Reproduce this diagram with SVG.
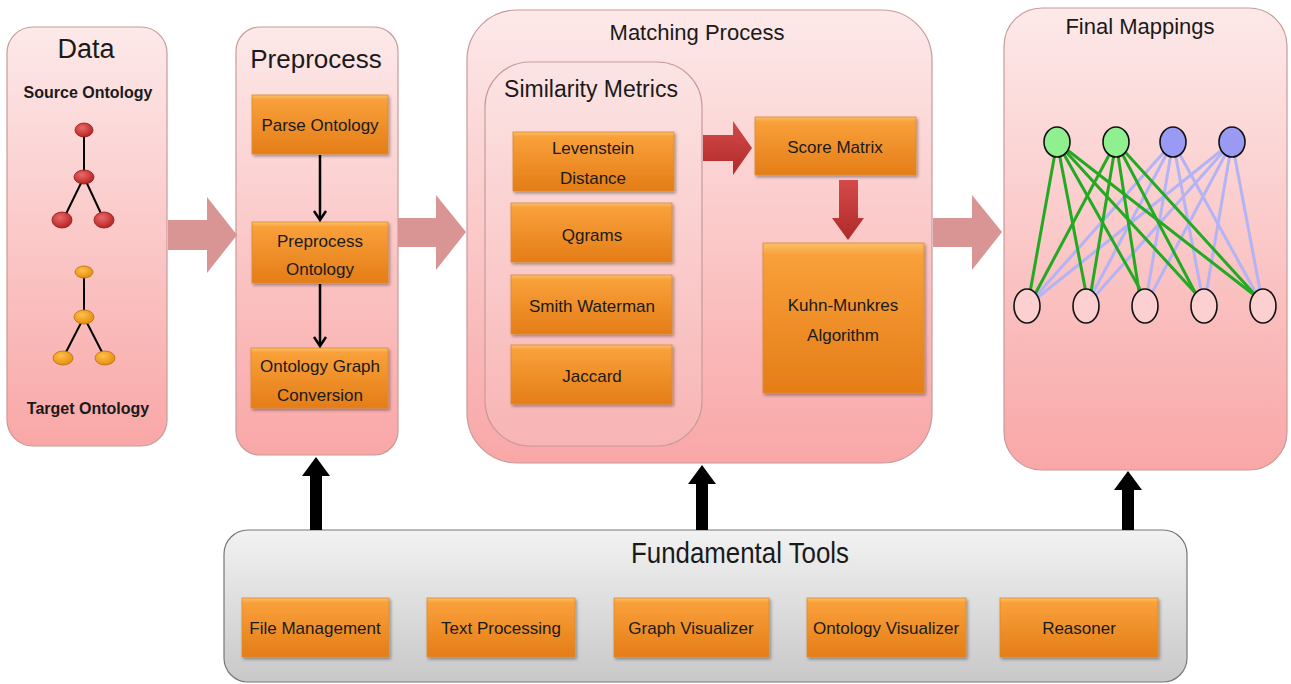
<svg xmlns="http://www.w3.org/2000/svg" width="1291" height="684" viewBox="0 0 1291 684">
<defs>
<linearGradient id="pink" x1="0" y1="0" x2="0" y2="1">
<stop offset="0" stop-color="#fde9e9"/>
<stop offset="1" stop-color="#f9a7a7"/>
</linearGradient>
<linearGradient id="pink2" x1="0" y1="0" x2="0" y2="1">
<stop offset="0" stop-color="#fce4e4"/>
<stop offset="1" stop-color="#f8b4b4"/>
</linearGradient>
<linearGradient id="gray" x1="0" y1="0" x2="0" y2="1">
<stop offset="0" stop-color="#f2f2f2"/>
<stop offset="1" stop-color="#c8c8c8"/>
</linearGradient>
<linearGradient id="orange" x1="0" y1="0" x2="0" y2="1">
<stop offset="0" stop-color="#fbc16a"/>
<stop offset="0.08" stop-color="#f9a03a"/>
<stop offset="1" stop-color="#e47d17"/>
</linearGradient>
<linearGradient id="red" x1="0" y1="0" x2="0" y2="1">
<stop offset="0" stop-color="#d44a4a"/>
<stop offset="1" stop-color="#b02a2a"/>
</linearGradient>
<radialGradient id="rnode" cx="0.4" cy="0.35" r="0.7">
<stop offset="0" stop-color="#e86a6a"/>
<stop offset="1" stop-color="#b81e1e"/>
</radialGradient>
<radialGradient id="onode" cx="0.4" cy="0.35" r="0.7">
<stop offset="0" stop-color="#ffc04a"/>
<stop offset="1" stop-color="#e58a0a"/>
</radialGradient>
<filter id="sh" x="-10%" y="-10%" width="130%" height="140%">
<feDropShadow dx="1.5" dy="2" stdDeviation="1.5" flood-color="#000" flood-opacity="0.35"/>
</filter>
<marker id="ah" markerWidth="16" markerHeight="16" refX="12" refY="8" orient="auto" markerUnits="userSpaceOnUse">
<path d="M3,2 L12,8 L3,14" fill="none" stroke="#000" stroke-width="2.5"/>
</marker>
</defs>
<style>
.stage{fill:url(#pink);stroke:#c99a9a;stroke-width:1.2}
.inner{fill:url(#pink2);stroke:#c99a9a;stroke-width:1.2}
.tools{fill:url(#gray);stroke:#777;stroke-width:1.2}
.ob{fill:url(#orange);stroke:#d98a30;stroke-width:0.8;filter:url(#sh)}
.t{font-family:"Liberation Sans",Arial,sans-serif;fill:#1a1a1a;text-anchor:middle}
.bt{font-size:17px}
.bold{font-weight:bold;font-size:16px}
.big{fill:#d99494}
.tree{stroke:#000;stroke-width:2;fill:none}
.ge{stroke:#22aa22;stroke-width:3}
.be{stroke:#b4b4f4;stroke-width:3}
.up{fill:#000}
</style>

<g id="data">
<rect class="stage" x="7" y="27" width="160" height="419" rx="26"/>
<text class="t" x="86" y="58" font-size="27">Data</text>
<text class="t bold" x="88" y="98">Source Ontology</text>
<g class="tree">
<line x1="84" y1="131" x2="84" y2="177"/><line x1="84" y1="177" x2="63" y2="220"/><line x1="84" y1="177" x2="104" y2="220"/>
<line x1="84" y1="272" x2="84" y2="317"/><line x1="84" y1="317" x2="63" y2="358"/><line x1="84" y1="317" x2="105" y2="358"/>
</g>
<g fill="url(#rnode)" stroke="#8a1a1a" stroke-width="0.8">
<ellipse cx="84" cy="130" rx="9" ry="7"/><ellipse cx="84" cy="177" rx="10" ry="7"/>
<ellipse cx="62" cy="220" rx="10" ry="8"/><ellipse cx="104" cy="220" rx="10" ry="8"/>
</g>
<g fill="url(#onode)" stroke="#b8700a" stroke-width="0.8">
<ellipse cx="84" cy="272" rx="9" ry="6"/><ellipse cx="84" cy="317" rx="10" ry="7"/>
<ellipse cx="63" cy="358" rx="10" ry="7"/><ellipse cx="105" cy="358" rx="10" ry="7"/>
</g>
<text class="t bold" x="88" y="414">Target Ontology</text>
</g>

<g id="preprocess">
<rect class="stage" x="236" y="27" width="162" height="428" rx="24"/>
<text class="t" x="316" y="68" font-size="26">Preprocess</text>
<rect class="ob" x="252" y="95" width="136" height="59"/>
<text class="t bt" x="320" y="131">Parse Ontology</text>
<rect class="ob" x="252" y="222" width="136" height="61"/>
<text class="t bt" x="320" y="247">Preprocess</text>
<text class="t bt" x="320" y="275">Ontology</text>
<rect class="ob" x="251" y="348" width="137" height="60"/>
<text class="t bt" x="320" y="372">Ontology Graph</text>
<text class="t bt" x="320" y="401">Conversion</text>
</g>

<g id="matching">
<rect class="stage" x="467" y="10" width="465" height="453" rx="50"/>
<text class="t" x="697" y="40" font-size="22">Matching Process</text>
<g id="similarity">
<rect class="inner" x="485" y="62" width="217" height="384" rx="45"/>
<text class="t" x="591" y="97" font-size="23">Similarity Metrics</text>
<rect class="ob" x="513" y="132" width="161" height="59"/>
<text class="t bt" x="593" y="154">Levenstein</text>
<text class="t bt" x="593" y="184">Distance</text>
<rect class="ob" x="511" y="203" width="161" height="59"/>
<text class="t bt" x="592" y="241">Qgrams</text>
<rect class="ob" x="511" y="275" width="161" height="59"/>
<text class="t bt" x="592" y="312">Smith Waterman</text>
<rect class="ob" x="511" y="345" width="161" height="59"/>
<text class="t bt" x="592" y="382">Jaccard</text>
</g>
<rect class="ob" x="755" y="117" width="161" height="58"/>
<text class="t bt" x="835" y="153">Score Matrix</text>
<rect class="ob" x="763" y="243" width="161" height="150"/>
<text class="t bt" x="843" y="311">Kuhn-Munkres</text>
<text class="t bt" x="843" y="341">Algorithm</text>
</g>

<g id="final">
<rect class="stage" x="1004" y="8" width="283" height="462" rx="38"/>
<text class="t" x="1140" y="34" font-size="22">Final Mappings</text>
<g class="be">
<line x1="1173" y1="142" x2="1027" y2="306"/><line x1="1173" y1="142" x2="1086" y2="306"/><line x1="1173" y1="142" x2="1145" y2="306"/><line x1="1173" y1="142" x2="1204" y2="306"/><line x1="1173" y1="142" x2="1263" y2="306"/>
<line x1="1232" y1="142" x2="1027" y2="306"/><line x1="1232" y1="142" x2="1086" y2="306"/><line x1="1232" y1="142" x2="1145" y2="306"/><line x1="1232" y1="142" x2="1204" y2="306"/><line x1="1232" y1="142" x2="1263" y2="306"/>
</g>
<g class="ge">
<line x1="1057" y1="142" x2="1029" y2="298"/><line x1="1057" y1="142" x2="1087" y2="298"/><line x1="1057" y1="142" x2="1145" y2="298"/><line x1="1057" y1="142" x2="1200" y2="298"/><line x1="1057" y1="142" x2="1258" y2="298"/>
<line x1="1116" y1="142" x2="1033" y2="298"/><line x1="1116" y1="142" x2="1090" y2="298"/><line x1="1116" y1="142" x2="1140" y2="298"/><line x1="1116" y1="142" x2="1198" y2="298"/><line x1="1116" y1="142" x2="1258" y2="298"/>
</g>
<g stroke="#111" stroke-width="1.6">
<ellipse cx="1057" cy="142" rx="13" ry="15" fill="#90f090"/>
<ellipse cx="1116" cy="142" rx="13" ry="15" fill="#90f090"/>
<ellipse cx="1173" cy="142" rx="13" ry="15" fill="#9a9af5"/>
<ellipse cx="1232" cy="142" rx="13" ry="15" fill="#9a9af5"/>
<ellipse cx="1027" cy="306" rx="13" ry="17" fill="#fcd0d0"/>
<ellipse cx="1086" cy="306" rx="13" ry="17" fill="#fcd0d0"/>
<ellipse cx="1145" cy="306" rx="13" ry="17" fill="#fcd0d0"/>
<ellipse cx="1204" cy="306" rx="13" ry="17" fill="#fcd0d0"/>
<ellipse cx="1263" cy="306" rx="13" ry="17" fill="#fcd0d0"/>
</g>
</g>

<g id="tools">
<rect class="tools" x="224" y="530" width="963" height="152" rx="24"/>
<text class="t" x="740" y="563" font-size="30" textLength="218" lengthAdjust="spacingAndGlyphs">Fundamental Tools</text>
<rect class="ob" x="242" y="598" width="147" height="59"/>
<text class="t bt" x="315" y="634">File Management</text>
<rect class="ob" x="427" y="598" width="148" height="59"/>
<text class="t bt" x="501" y="634">Text Processing</text>
<rect class="ob" x="614" y="598" width="155" height="59"/>
<text class="t bt" x="691" y="634">Graph Visualizer</text>
<rect class="ob" x="807" y="598" width="159" height="59"/>
<text class="t bt" x="886" y="634">Ontology Visualizer</text>
<rect class="ob" x="1000" y="598" width="158" height="59"/>
<text class="t bt" x="1079" y="634">Reasoner</text>
</g>

<g id="connectors">
<path class="big" d="M168,220 H207 V197 L237,235 L207,273 V250 H168 Z"/>
<path class="big" d="M398,218 H436 V195 L466,232 L436,270 V247 H398 Z"/>
<path class="big" d="M933,218 H972 V195 L1002,232 L972,270 V247 H933 Z"/>
<line x1="320" y1="155" x2="320" y2="220" stroke="#000" stroke-width="2.5" marker-end="url(#ah)"/>
<line x1="320" y1="284" x2="320" y2="346" stroke="#000" stroke-width="2.5" marker-end="url(#ah)"/>
<path d="M703,135 H733 V121 L752,148 L733,175 V161 H703 Z" fill="url(#red)"/>
<path d="M839,180 H858 V218 H864 L848,240 L832,218 H839 Z" fill="url(#red)"/>
<path class="up" d="M310,530 V476 H302 L316,457 L330,476 H322 V530 Z"/>
<path class="up" d="M696,530 V484 H688 L702,465 L716,484 H708 V530 Z"/>
<path class="up" d="M1122,530 V490 H1114 L1128,471 L1142,490 H1134 V530 Z"/>
</g>
</svg>
